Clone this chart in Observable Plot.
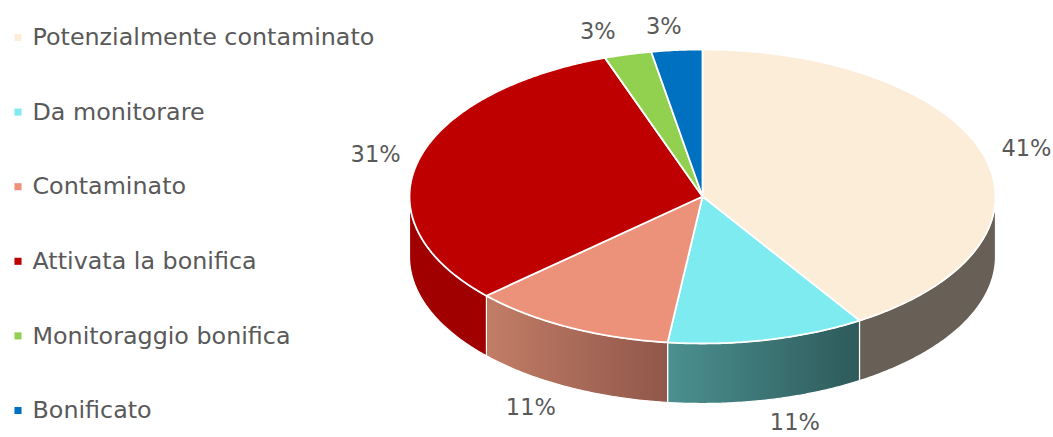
<!DOCTYPE html>
<html><head><meta charset="utf-8">
<script src="https://cdn.jsdelivr.net/npm/d3@7"></script>
<script src="https://cdn.jsdelivr.net/npm/@observablehq/plot@0.6"></script>
<style>
html,body{margin:0;padding:0;background:#fff;}
#chart svg{display:block;}
</style></head><body><div id="chart"></div>
<script>
const categories = ["Potenzialmente contaminato","Da monitorare","Contaminato","Attivata la bonifica","Monitoraggio bonifica","Bonificato"];
const values = [41.0, 10.9, 11.3, 31.4, 2.6, 2.8];
const pctLabels = ["41%","11%","11%","31%","3%","3%"];
const topColors = ["#FBEDD8","#7EEBF0","#EC917A","#BF0000","#92D050","#0070C0"];
const sideFills = ["#686056","url(#gSideCyan)","url(#gSideSalmon)","#A00000","#6E9E3C","#005390"];

const W = 1053, H = 437;
const cx = 702, cy = 196, rx = 293, ry = 147, depth = 60;
const FONT = "'DejaVu Sans',sans-serif";

const arcs = d3.pie().sort(null).value(d => d)(values);
const px = (a, k = 1) => cx + rx * k * Math.sin(a);
const py = (a, k = 1) => cy - ry * k * Math.cos(a);

function arcPts(a0, a1, dy = 0) {
  const n = Math.max(2, Math.ceil(Math.abs(a1 - a0) / 0.01) + 1);
  const pts = [];
  for (let j = 0; j < n; j++) {
    const a = a0 + (a1 - a0) * j / (n - 1);
    pts.push({x: px(a), y: py(a) + dy});
  }
  return pts;
}

const tops = arcs.map(d => [{x: cx, y: cy}, ...arcPts(d.startAngle, d.endAngle), {x: cx, y: cy}]);

const walls = arcs.map(d => {
  const s = Math.max(d.startAngle, Math.PI / 2), e = Math.min(d.endAngle, 3 * Math.PI / 2);
  if (e <= s) return null;
  const top = arcPts(s, e), bot = arcPts(e, s, depth);
  return [...top, ...bot, top[0]];
});

const defsMark = () => {
  const g = document.createElementNS("http://www.w3.org/2000/svg", "defs");
  g.innerHTML = `
    <linearGradient id="gSideCyan" x1="0" x2="1" y1="0" y2="0">
      <stop offset="0" stop-color="#4B9090"/><stop offset="1" stop-color="#2E5A5A"/>
    </linearGradient>
    <linearGradient id="gSideSalmon" x1="0" x2="1" y1="0" y2="0">
      <stop offset="0" stop-color="#C27D66"/><stop offset="1" stop-color="#90574A"/>
    </linearGradient>`;
  return g;
};

const marks = [defsMark];
walls.forEach((w, i) => {
  if (w) marks.push(Plot.line(w, {x: "x", y: "y", fill: sideFills[i], stroke: "white", strokeWidth: 1.2, curve: "linear"}));
});
tops.forEach((t, i) => {
  marks.push(Plot.line(t, {x: "x", y: "y", fill: topColors[i], stroke: "white", strokeWidth: 1.8, strokeLinejoin: "round", curve: "linear"}));
});

// percentage labels (outside end)
const kx = 1.02, ky = 1.16, pad = 37;
const mid = d => (d.startAngle + d.endAngle) / 2;
marks.push(Plot.text(arcs, {
  x: d => px(mid(d), kx) + pad * Math.tanh(4 * Math.sin(mid(d))),
  y: d => py(mid(d), ky) + (Math.cos(mid(d)) < 0 ? depth : 0),
  text: (d, i) => pctLabels[i],
  fontSize: 22.5, fill: "#595959", fontFamily: FONT
}));

// legend
marks.push(Plot.dot(categories, {x: 17.5, y: (d, i) => 37 + i * 74.6, symbol: "square", r: 4, fill: (d, i) => topColors[i]}));
marks.push(Plot.text(categories, {x: 32, y: (d, i) => 37 + i * 74.6, text: d => d, textAnchor: "start", fontSize: 23.8, fill: "#595959", fontFamily: FONT}));

const chart = Plot.plot({
  width: W, height: H,
  margin: 0,
  x: {domain: [0, W], range: [0, W], axis: null},
  y: {domain: [0, H], range: [0, H], axis: null},
  color: {type: "identity"},
  style: {background: "white", overflow: "visible"},
  marks
});
document.getElementById("chart").appendChild(chart);
</script>
</body></html>
